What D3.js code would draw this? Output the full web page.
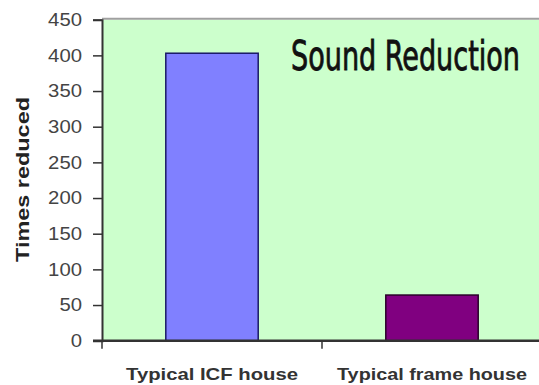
<!DOCTYPE html>
<html><head><meta charset="utf-8">
<script src="https://cdn.jsdelivr.net/npm/d3@7"></script>
<style>body{margin:0;background:#fff}svg{display:block}</style>
</head><body>
<script>
const categories = ["Typical ICF house", "Typical frame house"];
const values = [403, 64];
const yTicks = [0, 50, 100, 150, 200, 250, 300, 350, 400, 450];
const barColors = ["#8080ff", "#800080"];
const barStrokes = ["#1a1a66", "#2a002a"];

const W = 539, H = 385;
const svg = d3.select("body").append("svg").attr("width", W).attr("height", H);
const pLeft = 102, pRight = 542, pTop = 19.7, pBottom = 340.7;

const x = d3.scaleBand().domain(categories).range([pLeft, pRight]).paddingInner(0.58).paddingOuter(0.29);
const y = d3.scaleLinear().domain([0, 450]).range([pBottom, pTop]);

svg.append("rect").attr("x", pLeft).attr("y", pTop).attr("width", pRight - pLeft).attr("height", pBottom - pTop).attr("fill", "#ccffcc");
svg.append("line").attr("x1", pLeft).attr("x2", W).attr("y1", pTop - 1).attr("y2", pTop - 1).attr("stroke", "#a0a0a0").attr("stroke-width", 2);

svg.selectAll("rect.bar").data(values).join("rect").attr("class", "bar")
  .attr("x", (d, i) => x(categories[i]))
  .attr("width", x.bandwidth())
  .attr("y", d => y(d))
  .attr("height", d => y(0) - y(d))
  .attr("fill", (d, i) => barColors[i])
  .attr("stroke", (d, i) => barStrokes[i])
  .attr("stroke-width", 1.5);

// y axis
const yAxis = d3.axisLeft(y).tickValues(yTicks).tickSize(9).tickPadding(11);
const gy = svg.append("g").attr("transform", `translate(${pLeft},0)`).call(yAxis);
gy.select(".domain").attr("stroke", "#333").attr("stroke-width", 2);
gy.selectAll(".tick line").attr("stroke", "#333").attr("stroke-width", 1.5);
gy.selectAll(".tick text").attr("fill", "#444")
  .style("font-family", "Arial, 'Liberation Sans', sans-serif").style("font-size", "18px")
  .attr("textLength", d => String(d).length * 11.3).attr("lengthAdjust", "spacingAndGlyphs");

// x axis
const xEdge = d3.scalePoint().domain(["a", "b", "c"]).range([pLeft, pRight]);
const gx = svg.append("g").attr("transform", `translate(0,${pBottom})`);
gx.append("line").attr("x1", pLeft - 9).attr("x2", W).attr("stroke", "#333").attr("stroke-width", 2.5);
gx.selectAll("line.t").data(["a", "b"]).join("line").attr("class", "t")
  .attr("x1", d => xEdge(d)).attr("x2", d => xEdge(d)).attr("y1", 0).attr("y2", 8)
  .attr("stroke", "#333").attr("stroke-width", 1.5);
gx.selectAll("text").data(categories).join("text")
  .attr("x", d => x(d) + x.bandwidth() / 2).attr("y", 39.5)
  .attr("text-anchor", "middle").attr("fill", "#333")
  .attr("textLength", (d, i) => i === 0 ? 172 : 190).attr("lengthAdjust", "spacingAndGlyphs")
  .style("font-family", "Arial, 'Liberation Sans', sans-serif").style("font-size", "17px").style("font-weight", "bold")
  .text(d => d);

svg.append("text").attr("transform", `translate(29,${(97 + 262) / 2}) rotate(-90)`)
  .attr("text-anchor", "middle").attr("fill", "#222")
  .attr("textLength", 165).attr("lengthAdjust", "spacingAndGlyphs")
  .style("font-family", "Arial, 'Liberation Sans', sans-serif").style("font-size", "18px").style("font-weight", "bold")
  .text("Times reduced");

svg.append("text").attr("transform", "translate(291,70) scale(1,1.37)")
  .attr("textLength", 229).attr("lengthAdjust", "spacingAndGlyphs")
  .attr("fill", "#111").attr("stroke", "#111").attr("stroke-width", 0.6)
  .style("font-family", "'Liberation Sans Narrow', 'DejaVu Sans Condensed', sans-serif").style("font-size", "30px")
  .text("Sound Reduction");
</script>
</body></html>
